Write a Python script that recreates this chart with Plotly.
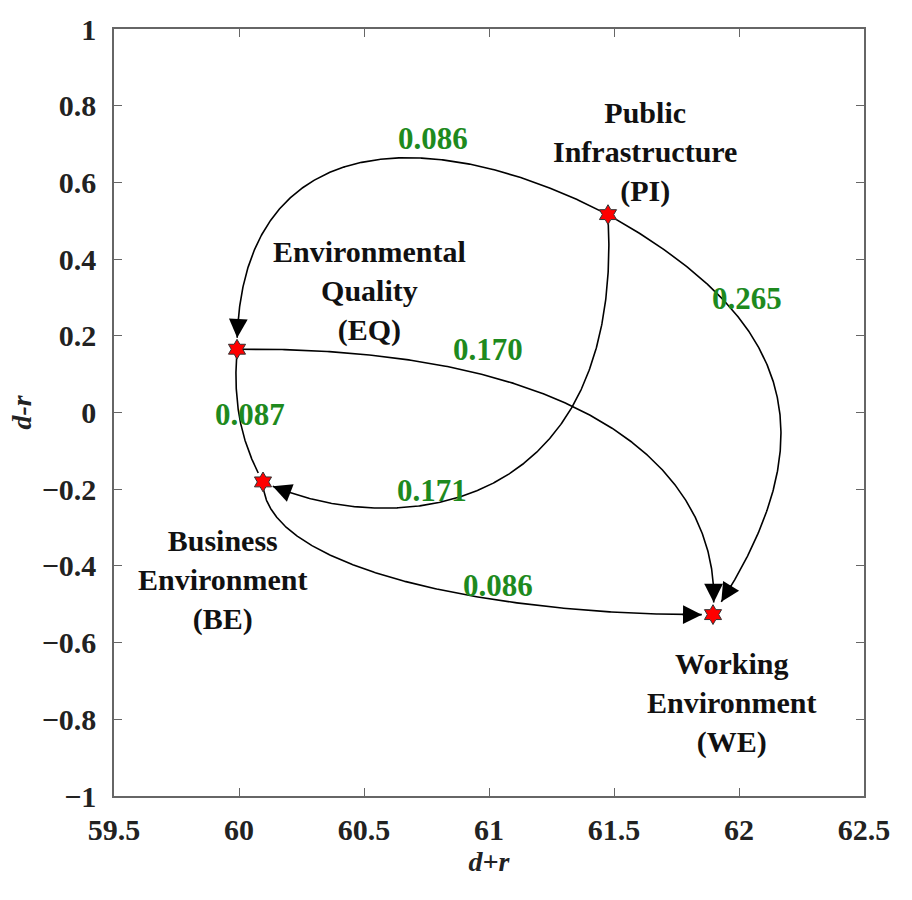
import numpy as np
import plotly.graph_objects as go

# Factor positions: (d+r, d-r)
node_names = ["PI", "EQ", "BE", "WE"]
node_x = [61.476, 59.992, 60.096, 61.896]
node_y = [0.516, 0.165, -0.181, -0.527]
node_labels = [
    "Public<br>Infrastructure<br>(PI)",
    "Environmental<br>Quality<br>(EQ)",
    "Business<br>Environment<br>(BE)",
    "Working<br>Environment<br>(WE)",
]
label_x = [61.624, 60.52, 59.932, 61.968]
label_y = [0.680, 0.316, -0.438, -0.758]

# Influence links: source, target, weight
edge_src = ["PI", "PI", "PI", "EQ", "EQ", "BE"]
edge_dst = ["EQ", "WE", "BE", "WE", "BE", "WE"]
edge_weight = ["0.086", "0.265", "0.171", "0.170", "0.087", "0.086"]
# Bezier control points of each link (data units)
ctrl1 = [(60.764, 0.758), (62.164, 0.264), (61.544, -0.282), (61.444, 0.173), (59.976, 0.030), (60.096, -0.412)]
ctrl2 = [(59.992, 0.745), (62.404, -0.032), (60.604, -0.334), (61.944, -0.178), (60.004, -0.074), (61.044, -0.532)]
# Weight label placement
weight_x = [60.776, 62.032, 60.772, 60.996, 60.044, 61.036]
weight_y = [0.714, 0.298, -0.204, 0.165, -0.004, -0.451]
arrow_gap = [10, 14, 10, 12, 10, 10]  # px between arrow tip and target star

x_ticks = [59.5, 60, 60.5, 61, 61.5, 62, 62.5]
x_tick_text = ["59.5", "60", "60.5", "61", "61.5", "62", "62.5"]
y_ticks = [1, 0.8, 0.6, 0.4, 0.2, 0, -0.2, -0.4, -0.6, -0.8, -1]
y_tick_text = ["1", "0.8", "0.6", "0.4", "0.2", "0", "\u22120.2", "\u22120.4", "\u22120.6", "\u22120.8", "\u22121"]

W, H = 912, 900
ML, MR, MT, MB = 114, 48, 27, 104
XR, YR = (59.5, 62.5), (-1, 1)
sx = (W - ML - MR) / (XR[1] - XR[0])
sy = (H - MT - MB) / (YR[1] - YR[0])

FONT = "Liberation Serif, Times New Roman, serif"
pos = {n: (x, y) for n, x, y in zip(node_names, node_x, node_y)}

fig = go.Figure()
annotations = []

t = np.linspace(0, 1, 400)
for s, d, c1, c2, gap in zip(edge_src, edge_dst, ctrl1, ctrl2, arrow_gap):
    p0, p3 = np.array(pos[s]), np.array(pos[d])
    p1, p2 = np.array(c1), np.array(c2)
    tt = t[:, None]
    pts = ((1 - tt) ** 3) * p0 + 3 * ((1 - tt) ** 2) * tt * p1 + 3 * (1 - tt) * tt ** 2 * p2 + tt ** 3 * p3
    dist = np.hypot((pts[:, 0] - p3[0]) * sx, (pts[:, 1] - p3[1]) * sy)
    keep = pts[dist > gap]
    fig.add_trace(go.Scatter(x=keep[:, 0], y=keep[:, 1], mode="lines",
                             line=dict(color="black", width=1.6), hoverinfo="skip", showlegend=False))
    tip = keep[-1]
    back = keep[-14]
    annotations.append(dict(x=tip[0], y=tip[1], ax=back[0], ay=back[1], xref="x", yref="y",
                            axref="x", ayref="y", showarrow=True, arrowhead=2, arrowsize=2.5,
                            arrowwidth=1.5, arrowcolor="black", standoff=0, text=""))

fig.add_trace(go.Scatter(x=node_x, y=node_y, mode="markers",
                         marker=dict(symbol="hexagram", size=15, color="red",
                                     line=dict(color="#333333", width=1)),
                         hoverinfo="skip", showlegend=False))

for txt, x, y in zip(node_labels, label_x, label_y):
    annotations.append(dict(x=x, y=y, xref="x", yref="y", text=txt, showarrow=False,
                            font=dict(family=FONT, size=30, color="#111111", weight="bold"),
                            align="center"))
for txt, x, y in zip(edge_weight, weight_x, weight_y):
    annotations.append(dict(x=x, y=y, xref="x", yref="y", text=txt, showarrow=False,
                            font=dict(family=FONT, size=31, color="#1e8a1e", weight="bold")))

axis_common = dict(showline=True, mirror="ticks", linecolor="#666666", linewidth=1.5,
                   ticks="inside", ticklen=8, tickcolor="#666666", tickwidth=1.2,
                   showgrid=False, zeroline=False,
                   tickfont=dict(family=FONT, size=30, color="#222222", weight="bold"))

fig.update_layout(
    width=W, height=H,
    margin=dict(l=ML, r=MR, t=MT, b=MB),
    plot_bgcolor="white", paper_bgcolor="white",
    annotations=annotations,
    xaxis=dict(range=list(XR), tickvals=x_ticks, ticktext=x_tick_text, ticklabelstandoff=6,
               title=dict(text="<i>d+r</i>", standoff=0,
                          font=dict(family=FONT, size=28, color="#222222", weight="bold")),
               **axis_common),
    yaxis=dict(range=list(YR), tickvals=y_ticks, ticktext=y_tick_text, ticklabelstandoff=10,
               title=dict(text="<i>d-r</i>", standoff=2,
                          font=dict(family=FONT, size=28, color="#222222", weight="bold")),
               **axis_common),
)

fig.write_html("out.html")
